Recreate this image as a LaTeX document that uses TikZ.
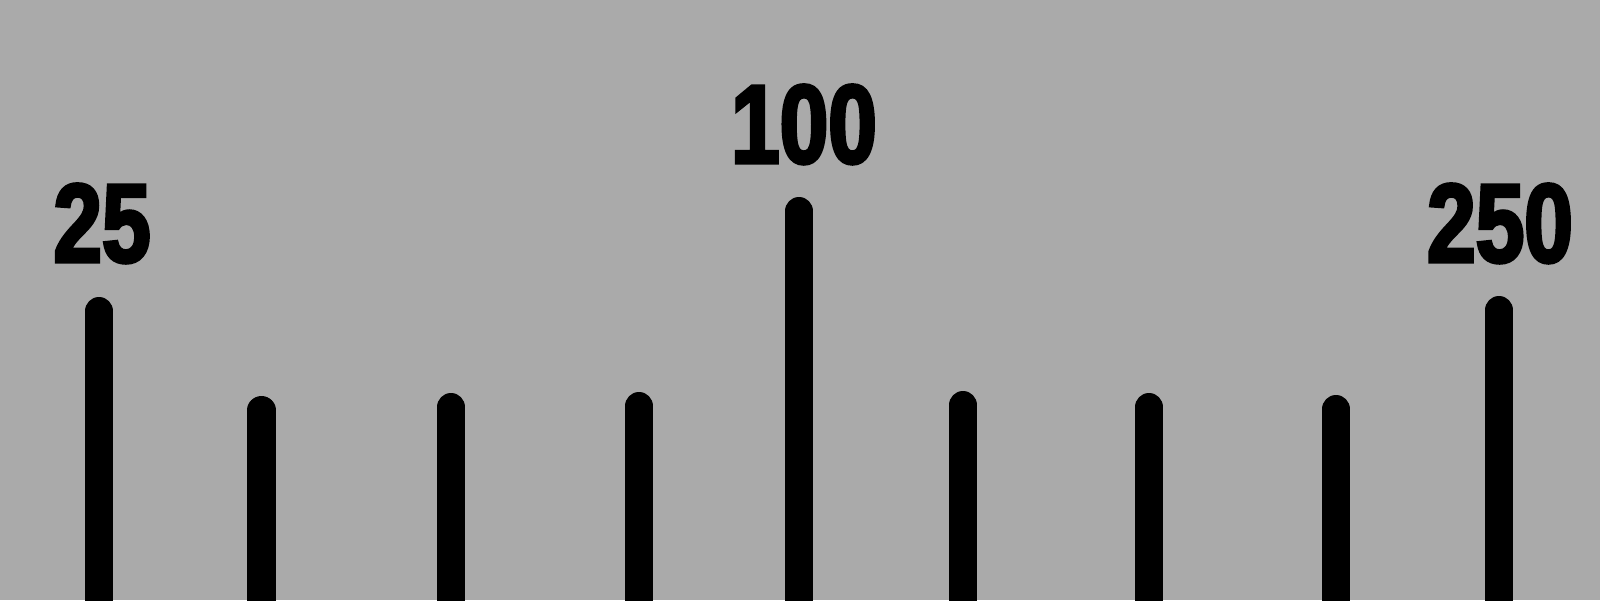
\documentclass[tikz,border=0pt]{standalone}
\usepackage{fontspec}
\newfontfamily\tickfont{Liberation Sans Bold}[FakeStretch=0.78,FakeBold=3]
\definecolor{bg}{HTML}{AAAAAA}
\tikzset{
  tick/.style={line width=28.4pt, line cap=round, black},
  ticklabel/.style={anchor=base, inner sep=0pt, font=\tickfont\fontsize{112}{112}\selectfont, text=black}
}
\begin{document}
\begin{tikzpicture}[x=1pt,y=-1pt]
\fill[bg] (0,0) rectangle (1600,600);
\useasboundingbox (0,0) rectangle (1600,600);
% tick top coordinates (centre of round cap) and bottoms
\foreach \n/\x/\t in {a/99/297, b/261.5/396, c/451/393, d/639/392, e/799/197, f/963/391, g/1149/393, h/1336/395, i/1499/296}{
  \coordinate (top\n) at (\x,\t+14.2);
  \coordinate (bot\n) at (\x,615);
}
\foreach \n in {a,b,c,d,e,f,g,h,i}{
  \draw[tick] (top\n) -- (bot\n);
}
\node[ticklabel] (l25) at (102,262) {25};
\node[ticklabel] (l100) at (804,163) {100};
\node[ticklabel] (l250) at (1500,262) {250};
\end{tikzpicture}
\end{document}
